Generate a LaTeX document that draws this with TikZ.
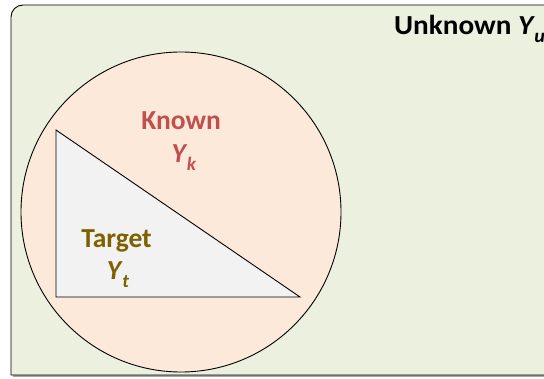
\documentclass[tikz,border=0pt]{standalone}
\usepackage{fontspec}
\setmainfont{Carlito}
\definecolor{bgfill}{HTML}{EBF1DE}
\definecolor{circfill}{HTML}{FDE9D9}
\definecolor{trifill}{HTML}{F2F2F2}
\definecolor{knowncol}{HTML}{C0504D}
\definecolor{targetcol}{HTML}{7F6000}
\tikzset{
  lbl/.style={inner sep=0pt, font=\fontsize{27.5}{30}\selectfont\bfseries},
  shape line/.style={draw=black, line width=0.9pt},
}
\newcommand{\yvar}[1]{\textit{Y}\kern-0.5pt\raisebox{-0.28em}{\fontsize{19}{20}\selectfont\textit{#1}}}
\begin{document}
\begin{tikzpicture}[x=1pt,y=1pt]
\useasboundingbox (0,0) rectangle (544,378);
\begin{scope}
\clip (0,0) rectangle (544,378);
% shadow
\fill[black!35] (13,1) rectangle (580,361);
% universe rectangle
\path[shape line, fill=bgfill] (11,3) -- (11,361) arc[start angle=180, end angle=90, radius=12] -- (580,373) -- (580,3) -- cycle;
% labels
\node[lbl, anchor=base west, xscale=1.06] (unk) at (394,343) {Unknown \yvar{u}};
\end{scope}
% known circle
\node[circle, shape line, fill=circfill, minimum size=320pt, inner sep=0pt] (known) at (181,166) {};
% target triangle
\coordinate (ta) at (56,248);
\coordinate (tb) at (56,81);
\coordinate (tc) at (300,81);
\path[shape line, fill=trifill, line join=miter] (ta) -- (tb) -- (tc) -- cycle;
\node[lbl, anchor=base, text=knowncol] (kn) at (181,248) {Known};
\node[lbl, anchor=base, text=knowncol] (yk) at (184,215) {\yvar{k}};
\node[lbl, anchor=base, text=targetcol] (tg) at (116.5,130) {Target};
\node[lbl, anchor=base, text=targetcol] (yt) at (118,98) {\yvar{t}};
\end{tikzpicture}
\end{document}
